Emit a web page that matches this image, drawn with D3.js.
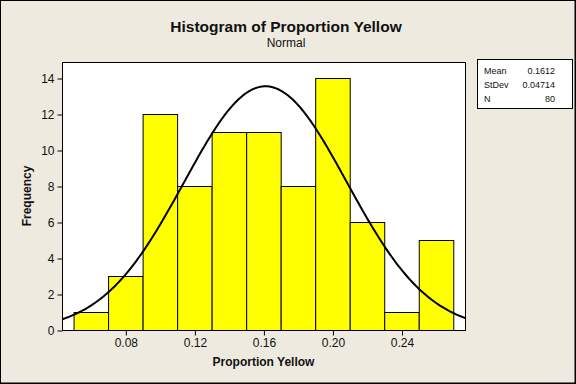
<!DOCTYPE html>
<html>
<head>
<meta charset="utf-8">
<script src="https://cdn.jsdelivr.net/npm/d3@7"></script>
<style>
  html, body { margin: 0; padding: 0; background: #eeeae0; }
  svg { display: block; }
</style>
</head>
<body>
<div id="chart"></div>
<script>
var TEXTFONT = '"Liberation Sans", Arial, sans-serif';
var WIDTH = 576;
var HEIGHT = 384;
var MARGIN = { 'top' : 62, 'bottom' : 54, 'left' : 62, 'right' : 111 };

// histogram data
var binStarts = [0.05, 0.07, 0.09, 0.11, 0.13, 0.15, 0.17, 0.19, 0.21, 0.23, 0.25];
var binEnds = [0.07, 0.09, 0.11, 0.13, 0.15, 0.17, 0.19, 0.21, 0.23, 0.25, 0.27];
var counts = [1, 3, 12, 8, 11, 11, 8, 14, 6, 1, 5];
var xTicks = [0.08, 0.12, 0.16, 0.20, 0.24];
var yTicks = [0, 2, 4, 6, 8, 10, 12, 14];
var xDomain = [0.0433, 0.2768];
var yDomain = [0, 14.89];

// fitted normal, as printed in the legend box
var statLabels = ['Mean', 'StDev', 'N'];
var statTexts = ['0.1612', '0.04714', '80'];
var fitMean = 0.1612;
var fitSd = 0.04714;
var fitN = 80;

/** Expected count per bin for the fitted normal. */
function normalCount(x) {
    var binW = binEnds[0] - binStarts[0];
    var z = (x - fitMean) / fitSd;
    return fitN * binW * Math.exp(-0.5 * z * z) / (fitSd * Math.sqrt(2 * Math.PI));
};

window.addEventListener('DOMContentLoaded', function () {
    var svg = d3.select('#chart').append('svg').attr('width', WIDTH).attr('height', HEIGHT)
        .style('font-family', TEXTFONT);
    var drawWidth = WIDTH - MARGIN.left - MARGIN.right;
    var drawHeight = HEIGHT - MARGIN.top - MARGIN.bottom;

    // outer frame
    svg.append('rect').attr('x', 0).attr('y', 0).attr('width', WIDTH).attr('height', HEIGHT)
        .attr('fill', '#eeeae0');
    svg.append('rect').attr('x', 0.5).attr('y', 0.5).attr('width', WIDTH - 1.5).attr('height', HEIGHT - 1.5)
        .attr('fill', 'none').attr('stroke', '#000');
    svg.append('line').attr('x1', WIDTH - 0.5).attr('x2', WIDTH - 0.5).attr('y1', 0).attr('y2', HEIGHT).attr('stroke', '#000');
    svg.append('line').attr('x1', 0).attr('x2', WIDTH).attr('y1', HEIGHT - 0.5).attr('y2', HEIGHT - 0.5).attr('stroke', '#000');

    // titles
    svg.append('text').attr('x', 286).attr('y', 32).attr('text-anchor', 'middle')
        .style('font-size', '15.5px').style('font-weight', 'bold').attr('fill', '#111')
        .text('Histogram of Proportion Yellow');
    svg.append('text').attr('x', 286).attr('y', 47).attr('text-anchor', 'middle')
        .style('font-size', '12px').attr('fill', '#111').text('Normal');

    var grp = svg.append('g').attr('transform', 'translate(' + MARGIN.left + ',' + MARGIN.top + ')');
    var xScale = d3.scaleLinear().domain(xDomain).range([0, drawWidth]);
    var yScale = d3.scaleLinear().domain(yDomain).range([drawHeight, 0]);

    grp.append('rect').attr('width', drawWidth).attr('height', drawHeight).attr('fill', '#fff');

    grp.append('clipPath').attr('id', 'plot-clip').append('rect')
        .attr('width', drawWidth).attr('height', drawHeight);

    var bars = counts.map(function (c, i) {
        return { 'x0' : binStarts[i], 'x1' : binEnds[i], 'y' : c };
    });
    grp.selectAll('rect.bar').data(bars).enter().append('rect').attr('class', 'bar')
        .attr('x', function (d) { return xScale(d.x0) + 0.5; })
        .attr('y', function (d) { return Math.round(yScale(d.y)) + 0.5; })
        .attr('width', function (d) { return xScale(d.x1) - xScale(d.x0); })
        .attr('height', function (d) { return drawHeight - Math.round(yScale(d.y)); })
        .attr('fill', '#ffff00').attr('stroke', '#000').attr('stroke-width', 1);

    // fitted curve across the whole x range
    var curveX = d3.range(xDomain[0], xDomain[1] + 0.001, 0.001);
    var line = d3.line().x(function (d) { return xScale(d); })
        .y(function (d) { return yScale(normalCount(d)); });
    grp.append('path').datum(curveX).attr('d', line).attr('fill', 'none')
        .attr('stroke', '#000').attr('stroke-width', 2).attr('clip-path', 'url(#plot-clip)');

    grp.append('rect').attr('x', 0.5).attr('y', 0.5).attr('width', drawWidth).attr('height', drawHeight)
        .attr('fill', 'none').attr('stroke', '#000');

    // axes
    var xAxis = d3.axisBottom(xScale).tickValues(xTicks).tickSize(5).tickPadding(3)
        .tickFormat(d3.format('.2f'));
    var xg = grp.append('g').attr('transform', 'translate(0.5,' + (drawHeight + 0.5) + ')').call(xAxis);
    var yAxis = d3.axisLeft(yScale).tickValues(yTicks).tickSize(5).tickPadding(3);
    var yg = grp.append('g').attr('transform', 'translate(0.5,0.5)').call(yAxis);
    [xg, yg].forEach(function (g) {
        g.select('.domain').remove();
        g.selectAll('line').attr('stroke', '#000');
        g.selectAll('text').style('font-size', '12px').style('font-family', TEXTFONT).attr('fill', '#111');
    });

    svg.append('text').attr('x', MARGIN.left + drawWidth / 2).attr('y', 366).attr('text-anchor', 'middle')
        .style('font-size', '12px').style('font-weight', 'bold').attr('fill', '#111').text('Proportion Yellow');
    svg.append('text').attr('transform', 'translate(31,' + (MARGIN.top + drawHeight / 2) + ') rotate(-90)')
        .attr('text-anchor', 'middle').style('font-size', '12px').style('font-weight', 'bold')
        .attr('fill', '#111').text('Frequency');

    // legend box with the fit statistics
    var leg = svg.append('g').attr('transform', 'translate(477,59)');
    leg.append('rect').attr('x', 0.5).attr('y', 0.5).attr('width', 95).attr('height', 49)
        .attr('fill', '#fff').attr('stroke', '#000');
    statLabels.forEach(function (lab, i) {
        leg.append('text').attr('x', 7).attr('y', 15 + i * 14).style('font-size', '9px')
            .attr('fill', '#111').text(lab);
        leg.append('text').attr('x', 78).attr('y', 15 + i * 14).attr('text-anchor', 'end')
            .style('font-size', '9px').attr('fill', '#111').text(statTexts[i]);
    });
});
</script>
</body>
</html>
